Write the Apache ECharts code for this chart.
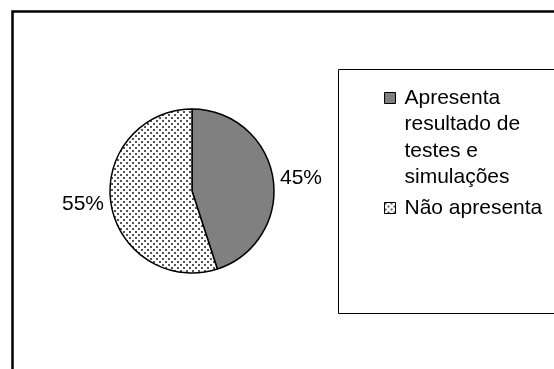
<!DOCTYPE html>
<html>
<head>
<meta charset="utf-8">
<script src="https://cdn.jsdelivr.net/npm/echarts@6/dist/echarts.min.js"></script>
<style>
  html, body { margin: 0; padding: 0; background: #fff; }
  #chart { width: 554px; height: 369px; }
</style>
</head>
<body>
<div id="chart"></div>
<script>
// Category names (line breaks are the legend's wrapping) and their shares in percent
const categories = ['Apresenta\nresultado de\ntestes e\nsimulações', 'Não apresenta'];
const shares = [45, 55];

// Dotted fill for the second slice
function dotPattern() {
  const c = document.createElement('canvas');
  c.width = 6; c.height = 6;
  const g = c.getContext('2d');
  g.fillStyle = '#fff';
  g.fillRect(0, 0, 6, 6);
  g.fillStyle = '#555';
  g.fillRect(0, 0, 2, 2);
  g.fillRect(3, 3, 2, 2);
  return { image: c, repeat: 'repeat' };
}

const fills = ['#808080', dotPattern()];
const FONT = 'Liberation Sans, Arial, sans-serif';
const FS = 21;
const LH = 26.5;
const ICON_Y = 98;   // centre of the first legend swatch

const chart = echarts.init(document.getElementById('chart'), null, { renderer: 'canvas' });

chart.setOption({
  animation: false,
  backgroundColor: '#fff',
  graphic: [
    // outer frame (top and left edges visible)
    { type: 'rect', shape: { x: 12.5, y: 11.5, width: 600, height: 400 },
      style: { fill: 'none', stroke: '#000', lineWidth: 2.5 }, silent: true },
    // legend box
    { type: 'rect', shape: { x: 338.5, y: 69.5, width: 300, height: 244 },
      style: { fill: 'none', stroke: '#000', lineWidth: 1 }, silent: true }
  ],
  legend: {
    orient: 'vertical',
    left: 384,
    top: ICON_Y - 3.5 * LH,
    padding: 0,
    itemWidth: 11,
    itemHeight: 11,
    itemGap: 4,
    icon: 'rect',
    itemStyle: { borderColor: '#000', borderWidth: 1 },
    // rich text so the wrapped name hangs below its swatch
    formatter: name => name.split('\n').map(s => '{t|' + s + '}').join('\n'),
    textStyle: {
      fontFamily: FONT,
      fontSize: FS,
      color: '#000',
      lineHeight: LH,
      rich: { t: { fontFamily: FONT, fontSize: FS, color: '#000', lineHeight: LH } }
    },
    data: [
      { name: categories[0], textStyle: { padding: [3 * LH, 0, 0, 4] } },
      { name: categories[1], textStyle: { padding: [0, 0, 0, 4] } }
    ]
  },
  series: [{
    type: 'pie',
    center: [192, 191],
    radius: [0, 82],
    startAngle: 90,
    clockwise: true,
    avoidLabelOverlap: false,
    itemStyle: { borderColor: '#000', borderWidth: 1.5 },
    label: {
      show: true,
      position: 'outside',
      formatter: '{c}%',
      fontFamily: FONT,
      fontSize: FS,
      color: '#000'
    },
    labelLine: { show: false, length: 2, length2: 0 },
    emphasis: { disabled: true },
    data: categories.map((name, i) => ({
      name: name,
      value: shares[i],
      itemStyle: { color: fills[i] }
    }))
  }]
});
</script>
</body>
</html>
